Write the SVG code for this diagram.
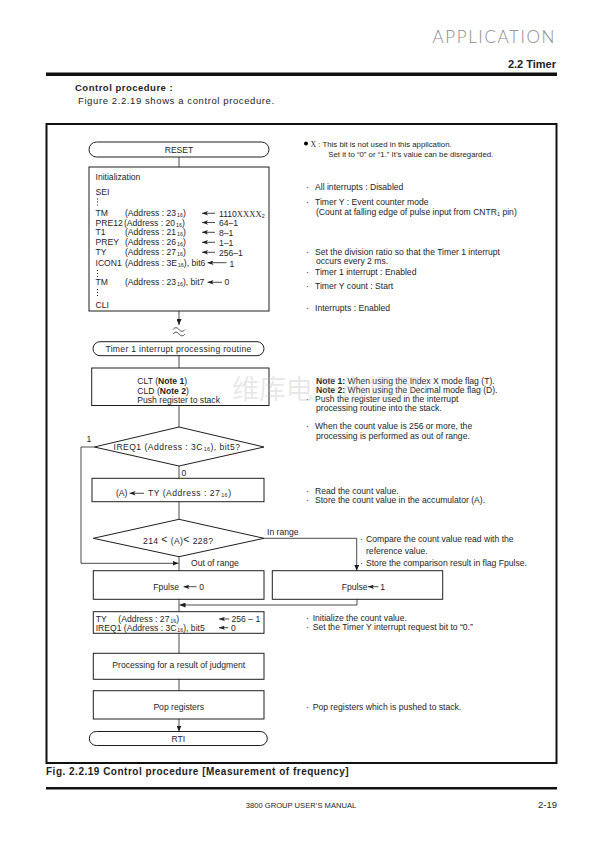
<svg xmlns="http://www.w3.org/2000/svg" width="595" height="841" viewBox="0 0 595 841">
<style>
text{font-family:"Liberation Sans",Arial,sans-serif;font-size:8.6px;fill:#1e1e1e}
.s{font-size:7.8px}
.sub{font-size:5.4px}
.b{font-weight:bold}
.ser{font-family:"Liberation Serif","Times New Roman",serif}
.box{fill:none;stroke:#1e1e1e;stroke-width:1}
.ln{fill:none;stroke:#1e1e1e;stroke-width:0.8}
.ta{fill:none;stroke:#1e1e1e;stroke-width:0.8}
.dot{stroke:#1e1e1e;stroke-width:1;stroke-dasharray:1 2}
.c{text-anchor:middle}
</style>
<defs>
<marker id="ah" viewBox="0 0 6 5" refX="6" refY="2.5" markerWidth="6" markerHeight="5" markerUnits="userSpaceOnUse" orient="auto"><path d="M0,0 L6,2.5 L0,5 z" fill="#1e1e1e"/></marker>
<marker id="tah" viewBox="0 0 6 4.4" refX="6" refY="2.2" markerWidth="6" markerHeight="4.4" markerUnits="userSpaceOnUse" orient="auto"><path d="M0,0 L6,2.2 L0,4.4 L1.5,2.2 z" fill="#1e1e1e"/></marker>
</defs>
<rect width="595" height="841" fill="#fff"/>

<g id="header">
<text x="556" y="43" text-anchor="end" style="font-family:Lato,'Open Sans','Liberation Sans',sans-serif;font-size:17px;font-weight:300;letter-spacing:1.6px;fill:#8a8a8a">APPLICATION</text>
<text x="556" y="68" text-anchor="end" class="b" style="font-size:11px">2.2 Timer</text>
<rect x="46" y="72.5" width="511" height="3.5" fill="#111"/>
<text x="75" y="91" class="b" style="font-size:9.5px;letter-spacing:0.5px">Control procedure :</text>
<text x="78" y="103.5" style="font-size:9.5px;letter-spacing:0.6px">Figure 2.2.19 shows a control procedure.</text>
</g>

<rect id="frame" x="46.5" y="124" width="510" height="639" fill="none" stroke="#111" stroke-width="2"/>

<g id="connectors" class="ln">
<path d="M179,157 V167"/>
<path d="M179,311 V325" marker-end="url(#ah)"/>
<path d="M173,329.5 c2,-2.4 4,-2.4 6,0 s4,2.4 6,0"/>
<path d="M173,334 c2,-2.4 4,-2.4 6,0 s4,2.4 6,0"/>
<path d="M179,355.7 V368"/>
<path d="M179,405.5 V427"/>
<path d="M179,466 V478.3"/>
<path d="M94.3,447 H81 V563.3 H178.5" marker-end="url(#ah)"/>
<path d="M179,501.7 V519.3"/>
<path d="M264,538.3 H356.7 V570.7" marker-end="url(#ah)"/>
<path d="M179,556.7 V570.7"/>
<path d="M179,599.3 V611.7"/>
<path d="M357,599.3 V605 H179.5" marker-end="url(#ah)"/>
<path d="M179,633.3 V653.3"/>
<path d="M179,679.3 V690.7"/>
<path d="M179,719 V731.5" marker-end="url(#ah)"/>
</g>

<g id="reset">
<rect class="box" x="89" y="142" width="180" height="15" rx="7.5"/>
<text x="179" y="152.6" class="c">RESET</text>
</g>

<g id="init">
<rect class="box" x="89" y="167" width="180" height="144"/>
<text x="95.5" y="179.8">Initialization</text>
<text x="95.5" y="194.8">SEI</text>
<line class="dot" x1="97.5" y1="198.5" x2="97.5" y2="207"/>
<text x="95.5" y="216.4">TM</text>
<text x="125" y="216.4">(Address : 23<tspan class="sub" dx="0.8" dy="1">16</tspan><tspan dy="-1">)</tspan></text>
<path class="ta" d="M215,213.3 H202" marker-end="url(#tah)"/>
<text x="219" y="216.8">1110<tspan class="ser">XXXX</tspan><tspan class="sub" dy="1">2</tspan></text>
<text x="95.5" y="225.6">PRE12</text>
<text x="124" y="225.6">(Address : 20<tspan class="sub" dx="0.8" dy="1">16</tspan><tspan dy="-1">)</tspan></text>
<path class="ta" d="M215,222.5 H202" marker-end="url(#tah)"/>
<text x="219" y="226">64–1</text>
<text x="95.5" y="235.4">T1</text>
<text x="125" y="235.4">(Address : 21<tspan class="sub" dx="0.8" dy="1">16</tspan><tspan dy="-1">)</tspan></text>
<path class="ta" d="M215,232.3 H202" marker-end="url(#tah)"/>
<text x="219" y="235.8">8–1</text>
<text x="95.5" y="245.4">PREY</text>
<text x="125" y="245.4">(Address : 26<tspan class="sub" dx="0.8" dy="1">16</tspan><tspan dy="-1">)</tspan></text>
<path class="ta" d="M215,242.3 H202" marker-end="url(#tah)"/>
<text x="219" y="245.8">1–1</text>
<text x="95.5" y="255.4">TY</text>
<text x="125" y="255.4">(Address : 27<tspan class="sub" dx="0.8" dy="1">16</tspan><tspan dy="-1">)</tspan></text>
<path class="ta" d="M215,252.3 H202" marker-end="url(#tah)"/>
<text x="219" y="255.8">256–1</text>
<text x="95.5" y="265.8">ICON1</text>
<text x="125" y="265.8">(Address : 3E<tspan class="sub" dx="0.8" dy="1">16</tspan><tspan dy="-1">), bit6</tspan></text>
<path class="ta" d="M226.5,262.7 H207.5" marker-end="url(#tah)"/>
<text x="229.5" y="266.5">1</text>
<line class="dot" x1="97.5" y1="270" x2="97.5" y2="278"/>
<text x="95.5" y="285.4">TM</text>
<text x="125" y="285.4">(Address : 23<tspan class="sub" dx="0.8" dy="1">16</tspan><tspan dy="-1">), bit7</tspan></text>
<path class="ta" d="M222,282.3 H207.5" marker-end="url(#tah)"/>
<text x="224.5" y="285.4">0</text>
<line class="dot" x1="97.5" y1="289" x2="97.5" y2="297"/>
<text x="95.5" y="308">CLI</text>
</g>

<g id="routine">
<rect class="box" x="93" y="341.7" width="171" height="14" rx="7"/>
<text x="178.5" y="351.8" class="c" style="letter-spacing:0.3px">Timer 1 interrupt processing routine</text>
</g>

<g id="push">
<rect class="box" x="91.7" y="368" width="177.3" height="37.5"/>
<text x="137.3" y="383.8">CLT (<tspan class="b">Note 1</tspan>)</text>
<text x="137.3" y="393.6">CLD (<tspan class="b">Note 2</tspan>)</text>
<text x="137.3" y="403.2">Push register to stack</text>
</g>

<g id="ireq1">
<path class="box" d="M179,427 L264,447 L179,466 L94.3,447 Z"/>
<text x="177" y="450.1" class="c" style="letter-spacing:0.45px">IREQ1 (Address : 3C<tspan class="sub" dx="0.8" dy="1">16</tspan><tspan dy="-1">), bit5?</tspan></text>
<text x="86.5" y="442">1</text>
<text x="181.5" y="476.3">0</text>
</g>

<g id="read">
<rect class="box" x="92" y="478.3" width="172" height="23.4"/>
<text x="116" y="496.4">(A)</text>
<path class="ta" d="M144,493.3 H129.5" marker-end="url(#tah)"/>
<text x="148" y="496.4" style="letter-spacing:0.5px">TY (Address : 27<tspan class="sub" dx="0.8" dy="1">16</tspan><tspan dy="-1">)</tspan></text>
</g>

<g id="compare">
<path class="box" d="M179,519.3 L264,538.3 L179,556.7 L93.3,538.3 Z"/>
<text x="143" y="543.8" style="letter-spacing:0.4px">214 <tspan style="font-size:10.5px" dy="-1">&lt;</tspan><tspan dy="1"> (A)</tspan><tspan style="font-size:10.5px" dy="-1">&lt;</tspan><tspan dy="1"> 228?</tspan></text>
<text x="267" y="534.6">In range</text>
<text x="191" y="566.4">Out of range</text>
</g>

<g id="fpulse0">
<rect class="box" x="93.3" y="570.7" width="170.7" height="28.6"/>
<text x="153.3" y="589.8">Fpulse</text>
<path class="ta" d="M196.5,586.7 H183.5" marker-end="url(#tah)"/>
<text x="199.3" y="589.8">0</text>
</g>

<g id="fpulse1">
<rect class="box" x="272.3" y="570.7" width="170.4" height="28.6"/>
<text x="341.7" y="589.8">Fpulse</text>
<path class="ta" d="M378.3,586.7 H368" marker-end="url(#tah)"/>
<text x="380.3" y="589.8">1</text>
</g>

<g id="initcount">
<rect class="box" x="93.3" y="611.7" width="170.7" height="21.6"/>
<text x="95.7" y="622.1">TY</text>
<text x="118.3" y="622.1">(Address : 27<tspan class="sub" dx="0.8" dy="1">16</tspan><tspan dy="-1">)</tspan></text>
<path class="ta" d="M229.3,619 H219" marker-end="url(#tah)"/>
<text x="231.5" y="622.1">256 – 1</text>
<text x="95.7" y="630.8">IREQ1 (Address : 3C<tspan class="sub" dx="0.8" dy="1">16</tspan><tspan dy="-1">), bit5</tspan></text>
<path class="ta" d="M228.3,627.7 H219" marker-end="url(#tah)"/>
<text x="231" y="630.8">0</text>
</g>

<g id="judgment">
<rect class="box" x="93.3" y="653.3" width="170.7" height="26"/>
<text x="178.7" y="668.1" class="c">Processing for a result of judgment</text>
</g>

<g id="pop">
<rect class="box" x="93.3" y="690.7" width="170.7" height="28.3"/>
<text x="178.7" y="709.8" class="c">Pop registers</text>
</g>

<g id="rti">
<rect class="box" x="89.3" y="731.5" width="178" height="14" rx="7"/>
<text x="178.3" y="741.6" class="c">RTI</text>
</g>

<g id="notes">
<circle cx="306" cy="143.5" r="2"/>
<text x="310.5" y="146.5" class="s"><tspan class="ser">X</tspan> : This bit is not used in this application.</text>
<text x="328.3" y="157" class="s">Set it to “0” or “1.” It’s value can be disregarded.</text>
<text y="189.7"><tspan x="306">·</tspan><tspan x="315">All interrupts : Disabled</tspan></text>
<text y="204.7"><tspan x="306">·</tspan><tspan x="315">Timer Y : Event counter mode</tspan></text>
<text x="316" y="215.3">(Count at falling edge of pulse input from CNTR<tspan class="sub" dy="1">1</tspan><tspan dy="-1"> pin)</tspan></text>
<text y="254.7"><tspan x="306">·</tspan><tspan x="315">Set the division ratio so that the Timer 1 interrupt</tspan></text>
<text x="316" y="264">occurs every 2 ms.</text>
<text y="274.7"><tspan x="306">·</tspan><tspan x="315">Timer 1 interrupt : Enabled</tspan></text>
<text y="288.7"><tspan x="306">·</tspan><tspan x="315">Timer Y count : Start</tspan></text>
<text y="311.3"><tspan x="306">·</tspan><tspan x="315">Interrupts : Enabled</tspan></text>
<text x="316" y="383.7"><tspan class="b">Note 1:</tspan> When using the Index X mode flag (T).</text>
<text x="316" y="392.5"><tspan class="b">Note 2:</tspan> When using the Decimal mode flag (D).</text>
<text y="401.5"><tspan x="306">·</tspan><tspan x="315">Push the register used in the interrupt</tspan></text>
<text x="316" y="410.8">processing routine into the stack.</text>
<text y="429"><tspan x="306">·</tspan><tspan x="315">When the count value is 256 or more, the</tspan></text>
<text x="316" y="438.7">processing is performed as out of range.</text>
<text y="494.3"><tspan x="306">·</tspan><tspan x="315">Read the count value.</tspan></text>
<text y="503"><tspan x="306">·</tspan><tspan x="315">Store the count value in the accumulator (A).</tspan></text>
<text y="542"><tspan x="360">·</tspan><tspan x="366">Compare the count value read with the</tspan></text>
<text x="366" y="553.7">reference value.</text>
<text y="565.7"><tspan x="360">·</tspan><tspan x="366">Store the comparison result in flag Fpulse.</tspan></text>
<text y="620.7"><tspan x="306">·</tspan><tspan x="312.7">Initialize the count value.</tspan></text>
<text y="630.3"><tspan x="306">·</tspan><tspan x="312.7">Set the Timer Y interrupt request bit to “0.”</tspan></text>
<text y="710"><tspan x="306">·</tspan><tspan x="312.7">Pop registers which is pushed to stack.</tspan></text>
</g>

<text id="watermark" x="232" y="399" style="font-family:'Noto Sans CJK SC',sans-serif;font-size:27px;fill:#bdbdbd;fill-opacity:0.35">维库电子市场网</text>

<g id="footer">
<text x="46" y="775" class="b" style="font-size:10px;letter-spacing:0.5px">Fig. 2.2.19 Control procedure [Measurement of frequency]</text>
<rect x="46" y="787" width="511" height="2.5" fill="#111"/>
<text x="301" y="808" class="c" style="font-size:7.6px">3800 GROUP USER’S MANUAL</text>
<text x="557" y="808" text-anchor="end" style="font-size:9.5px">2-19</text>
</g>
</svg>
